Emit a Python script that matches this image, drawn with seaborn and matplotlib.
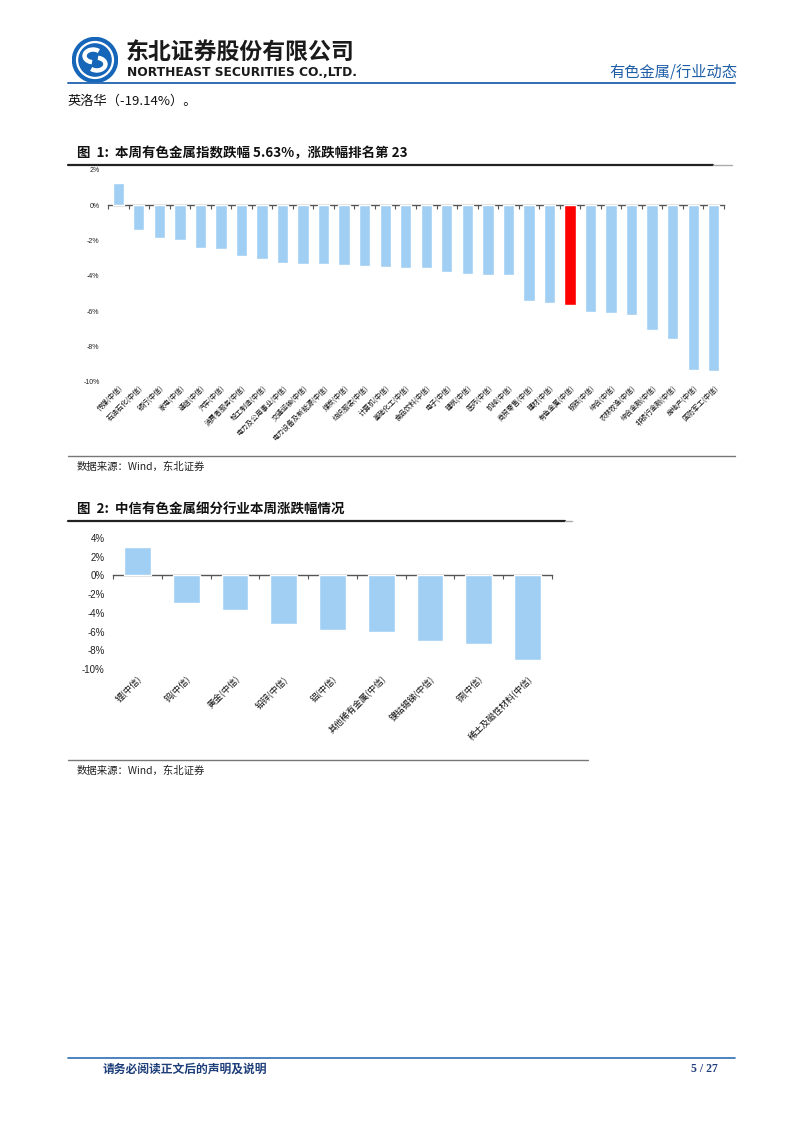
import numpy as np
import pandas as pd
import seaborn as sns
import matplotlib.pyplot as plt
from matplotlib.lines import Line2D
from matplotlib.patches import Circle, Arc
from matplotlib.ticker import FuncFormatter

# DATA
ind_names = ["传媒(中信)", "石油石化(中信)", "银行(中信)", "家电(中信)", "通信(中信)",
             "汽车(中信)", "消费者服务(中信)", "轻工制造(中信)", "电力及公用事业(中信)",
             "交通运输(中信)", "电力设备及新能源(中信)", "煤炭(中信)", "纺织服装(中信)",
             "计算机(中信)", "基础化工(中信)", "食品饮料(中信)", "电子(中信)", "建筑(中信)",
             "医药(中信)", "机械(中信)", "商贸零售(中信)", "建材(中信)", "有色金属(中信)",
             "钢铁(中信)", "综合(中信)", "农林牧渔(中信)", "综合金融(中信)",
             "非银行金融(中信)", "房地产(中信)", "国防军工(中信)"]
ind_chg = [1.25, -1.42, -1.83, -1.96, -2.40, -2.45, -2.89, -3.04, -3.26, -3.32,
           -3.32, -3.36, -3.43, -3.51, -3.53, -3.53, -3.77, -3.89, -3.92, -3.96,
           -5.43, -5.51, -5.63, -6.04, -6.09, -6.21, -7.04, -7.55, -9.32, -9.40]
highlight = "有色金属(中信)"

sub_names = ["锂(中信)", "钨(中信)", "黄金(中信)", "铅锌(中信)", "铝(中信)",
             "其他稀有金属(中信)", "镍钴锡锑(中信)", "铜(中信)", "稀土及磁性材料(中信)"]
sub_chg = [3.0, -2.9, -3.7, -5.14, -5.79, -6.0, -7.04, -7.29, -9.07]

W, H = 802, 1133
BLUE = "#A0CFF3"
CJK = ["Noto Sans CJK SC", "DejaVu Sans"]

sns.set_theme(style="white")
plt.rcParams["font.family"] = CJK


def fx(px):
    return px / W


def fy(py):
    return 1 - py / H


def hline(fig, x0, x1, y, color, lw):
    fig.add_artist(Line2D([fx(x0), fx(x1)], [fy(y), fy(y)], color=color, lw=lw,
                          transform=fig.transFigure))


def bar_panel(fig, rect, names, vals, ylim, step, tick_fs, lab_fs, lab_pad, hl=None):
    ax = fig.add_axes(rect)
    df = pd.DataFrame({"name": names, "chg": vals})
    colors = {n: ("#FF0000" if n == hl else BLUE) for n in names}
    sns.barplot(data=df, x="name", y="chg", hue="name", palette=colors,
                legend=False, width=0.55, saturation=1, ax=ax)
    ax.set_xlim(-0.5, len(names) - 0.5)
    ax.set_ylim(*ylim)
    ax.set_yticks(np.arange(ylim[0], ylim[1] + 0.1, step))
    ax.yaxis.set_major_formatter(FuncFormatter(lambda v, p: f"{v:.0f}%"))
    ax.tick_params(axis="y", length=0, labelsize=tick_fs, labelcolor="#222222", pad=6)
    for lab in ax.get_yticklabels():
        lab.set_fontfamily(["Liberation Sans", "DejaVu Sans"])
    ax.tick_params(axis="x", length=0, labelsize=lab_fs, pad=lab_pad, labelcolor="#111111")
    ax.set_xticks(range(len(names)))
    ax.set_xticklabels(names, rotation=45, ha="right", rotation_mode="anchor")
    ax.set_xlabel("")
    ax.set_ylabel("")
    for s in ax.spines.values():
        s.set_visible(False)
    # zero axis with ticks between categories
    frac = (0 - ylim[0]) / (ylim[1] - ylim[0])
    sec = ax.secondary_xaxis(frac)
    sec.set_alignment("bottom")
    sec.set_xticks(np.arange(len(names) + 1) - 0.5)
    sec.set_xticklabels([])
    sec.tick_params(length=3, width=0.8, color="#555555", direction="out")
    sec.spines["bottom"].set_color("#555555")
    sec.spines["bottom"].set_linewidth(1.0)
    return ax


fig = plt.figure(figsize=(W / 100, H / 100), dpi=100)

# header
lax = fig.add_axes([fx(72), fy(83), fx(46), 46 / H])
lax.set_xlim(-1, 1)
lax.set_ylim(-1, 1)
lax.set_aspect("equal")
lax.axis("off")
lax.add_patch(Circle((0, 0), 0.98, color="#1565B8"))
lax.add_patch(Circle((0, 0), 0.80, color="white"))
lax.add_patch(Circle((0, 0), 0.70, color="#1565B8"))
lax.add_patch(Arc((-0.08, 0.18), 0.75, 0.55, theta1=40, theta2=260, color="white", lw=3.2))
lax.add_patch(Arc((0.08, -0.18), 0.75, 0.55, theta1=220, theta2=80, color="white", lw=3.2))

fig.text(fx(126), fy(52), "东北证券股份有限公司", fontsize=16.5, fontweight="bold",
         color="#1a1a1a", va="center", ha="left")
fig.text(fx(127), fy(72), "NORTHEAST SECURITIES CO.,LTD.", fontsize=8.8, fontweight="bold",
         color="#1a1a1a", va="center", ha="left", family=["DejaVu Sans"])
fig.text(fx(737), fy(72), "有色金属/行业动态", fontsize=11, color="#1F5FA8",
         va="center", ha="right")
hline(fig, 68, 735, 83, "#2E6DB4", 1.4)

fig.text(fx(68), fy(101), "英洛华（-19.14%）。", fontsize=9.5, color="#111111",
         va="center", ha="left")

# figure 1
fig.text(fx(77), fy(153), "图  1:  本周有色金属指数跌幅 5.63%，涨跌幅排名第 23", fontsize=9.7,
         fontweight="bold", color="#111111", va="center", ha="left")
hline(fig, 68, 713, 165, "#222222", 1.6)
hline(fig, 713, 732, 165, "#AAAAAA", 1.0)
bar_panel(fig, [fx(108), fy(382), fx(724) - fx(108), 212 / H], ind_names, ind_chg,
          (-10, 2), 2, 5, 5, 1.5, hl=highlight)
hline(fig, 68, 735, 456, "#777777", 1.0)
fig.text(fx(77), fy(467), "数据来源：Wind，东北证券", fontsize=7.5, color="#222222",
         va="center", ha="left")

# figure 2
fig.text(fx(77), fy(510), "图  2:  中信有色金属细分行业本周涨跌幅情况", fontsize=9.7,
         fontweight="bold", color="#111111", va="center", ha="left")
hline(fig, 68, 565, 521, "#222222", 1.6)
hline(fig, 565, 572, 521, "#AAAAAA", 1.0)
bar_panel(fig, [fx(113), fy(669), fx(552) - fx(113), 131 / H], sub_names, sub_chg,
          (-10, 4), 2, 7, 6.4, 4, hl=None)
hline(fig, 68, 588, 760, "#777777", 1.0)
fig.text(fx(77), fy(771), "数据来源：Wind，东北证券", fontsize=7.5, color="#222222",
         va="center", ha="left")

# footer
hline(fig, 68, 735, 1058, "#2E6DB4", 1.2)
fig.text(fx(103), fy(1069), "请务必阅读正文后的声明及说明", fontsize=8.5, fontweight="bold",
         color="#1F3F7A", va="center", ha="left")
fig.text(fx(718), fy(1069), "5 / 27", fontsize=8.5, fontweight="bold", color="#1F3F7A",
         va="center", ha="right", family=["Liberation Serif", "DejaVu Serif"])

fig.savefig("out.png", dpi=100, facecolor="white")
